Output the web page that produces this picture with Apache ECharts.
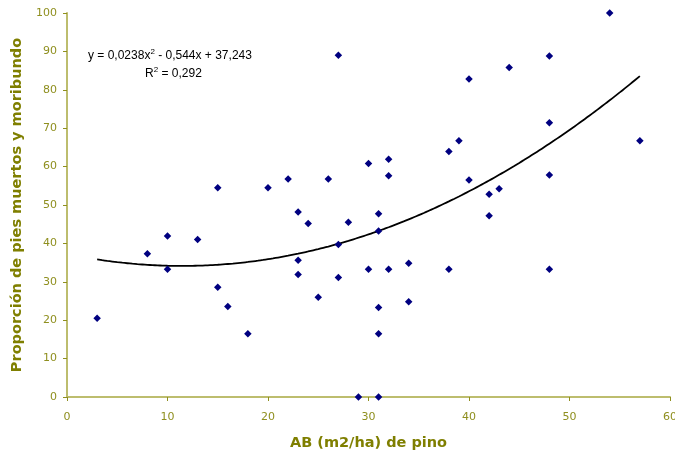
<!DOCTYPE html>
<html><head><meta charset="utf-8">
<script src="https://cdn.jsdelivr.net/npm/echarts@6/dist/echarts.min.js"></script>
<style>html,body{margin:0;padding:0;background:#fff}#c{width:675px;height:450px}</style>
</head><body><div id="c"></div>
<script>
const xValues = [3,8,10,10,13,15,15,16,18,20,22,23,23,23,24,25,26,27,27,27,28,29,30,30,31,31,31,31,31,32,32,32,34,34,38,38,39,40,40,42,42,43,44,48,48,48,48,54,57];
const yValues = [20.5,37.3,41.9,33.3,41,54.5,28.6,23.6,16.5,54.5,56.8,48.2,35.6,31.9,45.2,26,56.8,89,39.7,31.1,45.5,0,60.8,33.3,47.7,43.2,23.3,16.5,0,61.9,57.6,33.3,34.8,24.8,63.9,33.3,66.7,82.8,56.5,52.8,47.2,54.2,85.8,88.8,71.4,57.8,33.3,100,66.7];
// trendline coefficients as printed on the chart: y = a x^2 + b x + c
const trendCoef = [0.0238, -0.544, 37.243];
const trendRange = [3, 57];
const xTitle = 'AB (m2/ha) de pino';
const yTitle = 'Proporción de pies muertos y moribundo';

const points = xValues.map((x, i) => [x, yValues[i]]);
const trend = [];
for (let x = trendRange[0]; x <= trendRange[1] + 1e-9; x += 0.5) {
  trend.push([x, trendCoef[0]*x*x + trendCoef[1]*x + trendCoef[2]]);
}
const olive = '#8f8f1f';
const titleCol = '#7f7f00';
const axisCol = '#bdbd6e';
const chart = echarts.init(document.getElementById('c'));
chart.setOption({
  animation: false,
  grid: {left: 67, right: 5, top: 13, bottom: 53, outerBoundsMode: 'none', containLabel: false},
  xAxis: {
    type: 'value', min: 0, max: 60, interval: 10,
    name: xTitle, nameLocation: 'middle', nameGap: 39,
    nameTextStyle: {fontFamily: 'DejaVu Sans', fontWeight: 'bold', fontSize: 14.5, color: titleCol},
    axisLine: {show: true, lineStyle: {color: axisCol, width: 2}},
    axisTick: {show: true, length: 4, lineStyle: {color: olive}},
    axisLabel: {fontFamily: 'DejaVu Sans', fontSize: 11, color: olive, margin: 15},
    splitLine: {show: false}
  },
  yAxis: {
    type: 'value', min: 0, max: 100, interval: 10,
    name: yTitle, nameLocation: 'middle', nameGap: 37,
    nameTextStyle: {fontFamily: 'DejaVu Sans', fontWeight: 'bold', fontSize: 14.5, color: titleCol},
    axisLine: {show: true, lineStyle: {color: axisCol, width: 2}},
    axisTick: {show: true, length: 4, lineStyle: {color: olive}},
    axisLabel: {fontFamily: 'DejaVu Sans', fontSize: 11, color: olive, margin: 10},
    splitLine: {show: false}
  },
  series: [
    {type: 'scatter', data: points, symbol: 'diamond', symbolSize: 7.5, clip: false,
     itemStyle: {color: '#000080', opacity: 1}, z: 3},
    {type: 'line', data: trend, showSymbol: false, smooth: true, clip: false,
     lineStyle: {color: '#000', width: 1.8}, z: 2}
  ],
  graphic: [
    {type: 'text', left: 88, top: 48, style: {
      text: '{n|y = 0,0238x}{s|2}{n| - 0,544x + 37,243}',
      rich: {n: {fontFamily: 'Liberation Sans', fontSize: 12, color: '#000', lineHeight: 16},
             s: {fontFamily: 'Liberation Sans', fontSize: 8, color: '#000', verticalAlign: 'top', lineHeight: 16, padding: [0,0,6,0]}}
    }},
    {type: 'text', left: 145, top: 66, style: {
      text: '{n|R}{s|2}{n| = 0,292}',
      rich: {n: {fontFamily: 'Liberation Sans', fontSize: 12, color: '#000', lineHeight: 16},
             s: {fontFamily: 'Liberation Sans', fontSize: 8, color: '#000', verticalAlign: 'top', lineHeight: 16, padding: [0,0,6,0]}}
    }}
  ]
});
</script></body></html>
